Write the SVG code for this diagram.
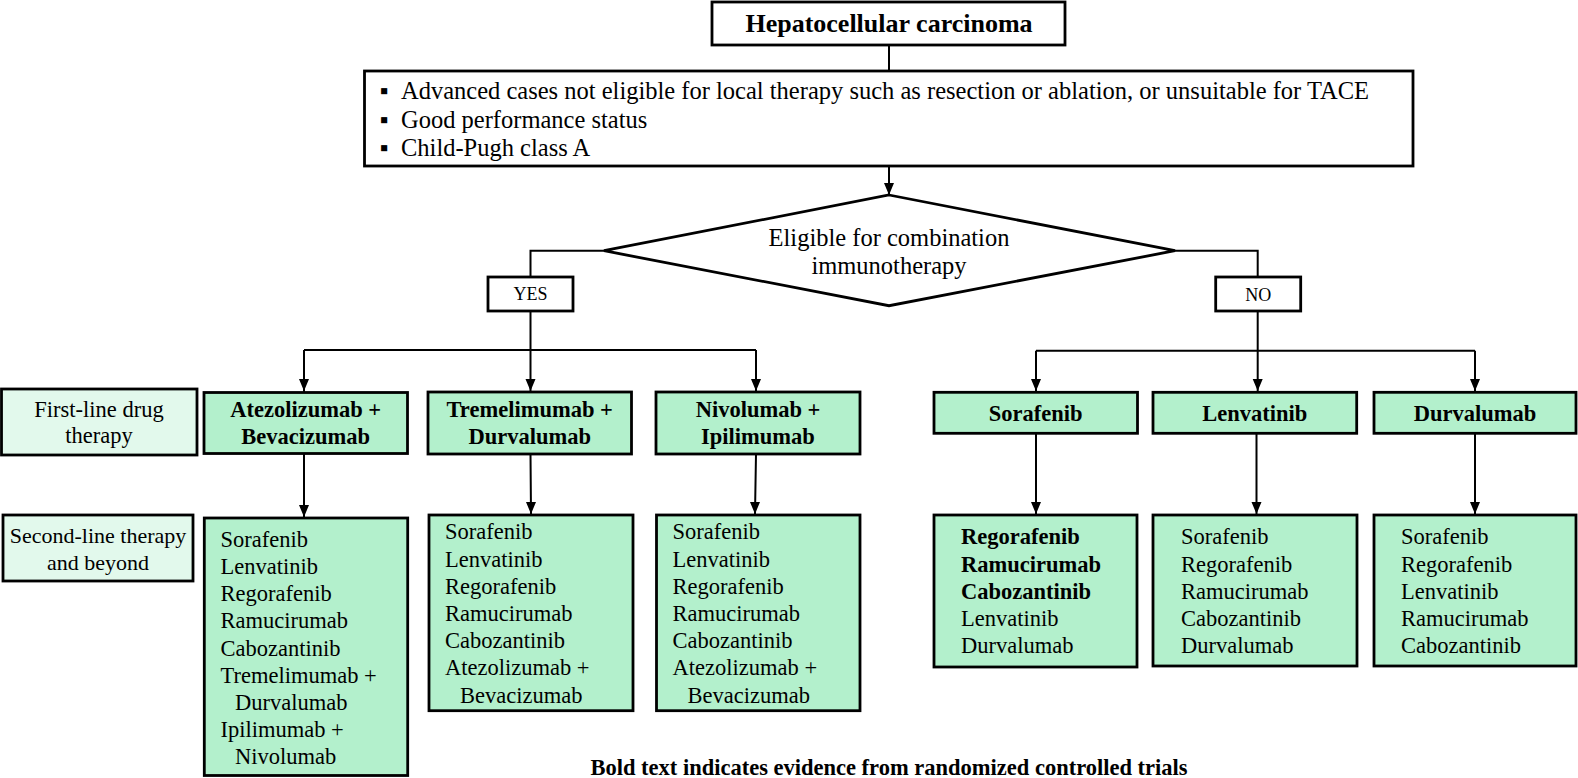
<svg xmlns="http://www.w3.org/2000/svg" width="1578" height="778" viewBox="0 0 1578 778">
<defs>
<style>
.box{fill:#fff;stroke:#000;stroke-width:2.8}
.g{fill:#b3f0cc;stroke:#000;stroke-width:2.8}
.lab{fill:#e2f9ec;stroke:#000;stroke-width:2.8}
.t{font-family:"Liberation Serif","Times New Roman",serif;font-size:22.5px;fill:#000}
.k{font-size:24.5px}
.b{font-weight:bold}
.c{text-anchor:middle}
.ln{fill:none;stroke:#000;stroke-width:2}
</style>
</defs>
<rect width="1578" height="778" fill="#fff"/>

<g id="connectors">
<path class="ln" d="M889,45 V71"/>
<path class="ln" d="M889,166 V195"/>
<path d="M884,183 L889,195 L894,183 z"/>
<path class="ln" d="M604,250.7 H530.5 V277"/>
<path class="ln" d="M530.5,311 V392"/>
<path class="ln" d="M304,350 H756 M304,350 V392 M756,350 V392"/>
<path class="ln" d="M1175,250.7 H1257.7 V277"/>
<path class="ln" d="M1257.7,311 V392"/>
<path class="ln" d="M1036,350.7 H1475 M1036,350.7 V392 M1475,350.7 V392"/>
<path d="M299,379 L304,391 L309,379 z M525.5,379 L530.5,391 L535.5,379 z M751,379 L756,391 L761,379 z M1031,379 L1036,391 L1041,379 z M1252.7,379 L1257.7,391 L1262.7,379 z M1470,379 L1475,391 L1480,379 z"/>
<path class="ln" d="M304,453.5 V517 M530.5,454 L531,514 M756,454 L755,514 M1036,433.3 V514 M1256.5,433.3 V514 M1475,433.3 V514"/>
<path d="M299,505 L304,517 L309,505 z M526,502 L531,514 L536,502 z M750,502 L755,514 L760,502 z M1031,502 L1036,514 L1041,502 z M1251.5,502 L1256.5,514 L1261.5,502 z M1470,502 L1475,514 L1480,502 z"/>
</g>

<g id="title">
<rect class="box" x="712" y="2" width="353" height="43"/>
<text class="t b c" x="889" y="32" style="font-size:26px">Hepatocellular carcinoma</text>
</g>

<g id="criteria">
<rect class="box" x="364.5" y="71" width="1048.5" height="95"/>
<text class="t k" x="380" y="98.5">▪</text>
<text class="t k" x="401" y="98.5" textLength="968">Advanced cases not eligible for local therapy such as resection or ablation, or unsuitable for TACE</text>
<text class="t k" x="380" y="127.5">▪</text>
<text class="t k" x="401" y="127.5">Good performance status</text>
<text class="t k" x="380" y="155.5">▪</text>
<text class="t k" x="401" y="155.5">Child-Pugh class A</text>
</g>

<g id="decision">
<polygon class="box" points="889,195 1175,250.7 889,305.7 604,250.7"/>
<text class="t k c" x="889" y="246">Eligible for combination</text>
<text class="t k c" x="889" y="273.5">immunotherapy</text>
</g>

<g id="yes">
<rect class="box" x="488" y="277" width="85" height="34"/>
<text class="t c" x="530.5" y="300" style="font-size:18px">YES</text>
</g>

<g id="no">
<rect class="box" x="1215.7" y="277" width="85" height="34"/>
<text class="t c" x="1258.2" y="300.5" style="font-size:18px">NO</text>
</g>

<g id="label-first">
<rect class="lab" x="1.5" y="389" width="195.5" height="66"/>
<text class="t c" x="99" y="416.5">First-line drug</text>
<text class="t c" x="99" y="443">therapy</text>
</g>

<g id="label-second">
<rect class="lab" x="3" y="515" width="190" height="66"/>
<text class="t c" x="98" y="543" style="font-size:22px">Second-line therapy</text>
<text class="t c" x="98" y="569.5" style="font-size:22px">and beyond</text>
</g>

<g id="first-atezo">
<rect class="g" x="204" y="392.5" width="203.5" height="61"/>
<text class="t b c" x="305.7" y="416.7">Atezolizumab +</text>
<text class="t b c" x="305.7" y="444">Bevacizumab</text>
</g>

<g id="first-treme">
<rect class="g" x="428" y="392" width="203.5" height="62"/>
<text class="t b c" x="529.7" y="416.7">Tremelimumab +</text>
<text class="t b c" x="529.7" y="444">Durvalumab</text>
</g>

<g id="first-nivo">
<rect class="g" x="656" y="392" width="204" height="62"/>
<text class="t b c" x="758" y="416.7">Nivolumab +</text>
<text class="t b c" x="758" y="444">Ipilimumab</text>
</g>

<g id="first-sora">
<rect class="g" x="934" y="392.3" width="203.5" height="41"/>
<text class="t b c" x="1035.7" y="420.7">Sorafenib</text>
</g>

<g id="first-lenv">
<rect class="g" x="1153" y="392.3" width="203.7" height="41"/>
<text class="t b c" x="1254.8" y="420.7">Lenvatinib</text>
</g>

<g id="first-durv">
<rect class="g" x="1374" y="392.3" width="202" height="41"/>
<text class="t b c" x="1475" y="420.7">Durvalumab</text>
</g>

<g id="second-atezo">
<rect class="g" x="204.3" y="518" width="203.4" height="257.5"/>
<text class="t" x="220.5" y="546.7">Sorafenib</text>
<text class="t" x="220.5" y="573.9">Lenvatinib</text>
<text class="t" x="220.5" y="601.1">Regorafenib</text>
<text class="t" x="220.5" y="628.3">Ramucirumab</text>
<text class="t" x="220.5" y="655.5">Cabozantinib</text>
<text class="t" x="220.5" y="682.7">Tremelimumab +</text>
<text class="t" x="235" y="709.9">Durvalumab</text>
<text class="t" x="220.5" y="737.1">Ipilimumab +</text>
<text class="t" x="235" y="764.3">Nivolumab</text>
</g>

<g id="second-treme">
<rect class="g" x="429" y="515" width="204" height="195.7"/>
<text class="t" x="445" y="539.3">Sorafenib</text>
<text class="t" x="445" y="566.5">Lenvatinib</text>
<text class="t" x="445" y="593.7">Regorafenib</text>
<text class="t" x="445" y="620.9">Ramucirumab</text>
<text class="t" x="445" y="648.1">Cabozantinib</text>
<text class="t" x="445" y="675.3">Atezolizumab +</text>
<text class="t" x="460" y="702.5">Bevacizumab</text>
</g>

<g id="second-nivo">
<rect class="g" x="656.5" y="515" width="203.5" height="195.7"/>
<text class="t" x="672.6" y="539.3">Sorafenib</text>
<text class="t" x="672.6" y="566.5">Lenvatinib</text>
<text class="t" x="672.6" y="593.7">Regorafenib</text>
<text class="t" x="672.6" y="620.9">Ramucirumab</text>
<text class="t" x="672.6" y="648.1">Cabozantinib</text>
<text class="t" x="672.6" y="675.3">Atezolizumab +</text>
<text class="t" x="687.5" y="702.5">Bevacizumab</text>
</g>

<g id="second-sora">
<rect class="g" x="934" y="515" width="203" height="152"/>
<text class="t b" x="961" y="544.3">Regorafenib</text>
<text class="t b" x="961" y="571.5">Ramucirumab</text>
<text class="t b" x="961" y="598.7">Cabozantinib</text>
<text class="t" x="961" y="625.9">Lenvatinib</text>
<text class="t" x="961" y="653.1">Durvalumab</text>
</g>

<g id="second-lenv">
<rect class="g" x="1153" y="515" width="204" height="151"/>
<text class="t" x="1181" y="544.3">Sorafenib</text>
<text class="t" x="1181" y="571.5">Regorafenib</text>
<text class="t" x="1181" y="598.7">Ramucirumab</text>
<text class="t" x="1181" y="625.9">Cabozantinib</text>
<text class="t" x="1181" y="653.1">Durvalumab</text>
</g>

<g id="second-durv">
<rect class="g" x="1374" y="515" width="202" height="151"/>
<text class="t" x="1401" y="544.3">Sorafenib</text>
<text class="t" x="1401" y="571.5">Regorafenib</text>
<text class="t" x="1401" y="598.7">Lenvatinib</text>
<text class="t" x="1401" y="625.9">Ramucirumab</text>
<text class="t" x="1401" y="653.1">Cabozantinib</text>
</g>

<g id="footer">
<text class="t b c" x="889" y="775">Bold text indicates evidence from randomized controlled trials</text>
</g>
</svg>
